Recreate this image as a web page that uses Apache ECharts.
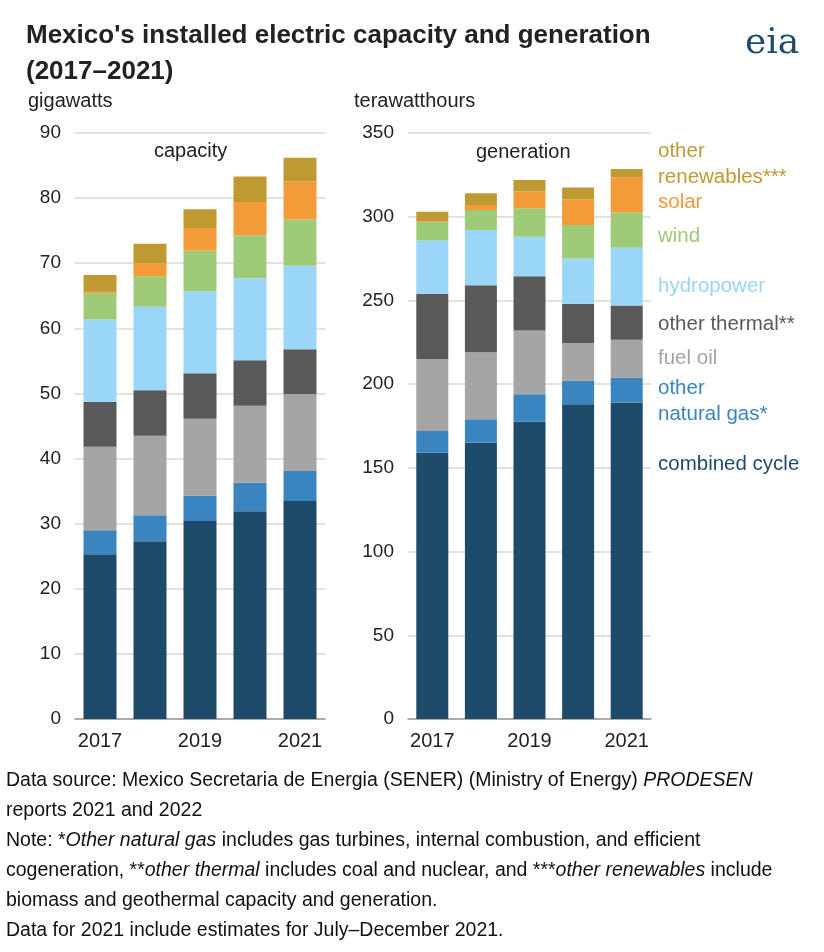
<!DOCTYPE html>
<html>
<head>
<meta charset="utf-8">
<script src="https://cdn.jsdelivr.net/npm/echarts@6/dist/echarts.min.js"></script>
<style>
body{margin:0;background:#fff;font-family:Arial,"Liberation Sans",sans-serif;}
#chart{width:824px;height:952px;}
</style>
</head>
<body>
<div id="chart"></div>
<script>
// 数据
var years = ['2017', '2018', '2019', '2020', '2021'];
var seriesNames = ['combined cycle', 'other natural gas*', 'fuel oil', 'other thermal**', 'hydropower', 'wind', 'solar', 'other renewables***'];
var colors = ['#1f4b6b', '#3a84bf', '#a5a5a5', '#595959', '#99d6f8', '#9fca78', '#f29b38', '#bf9a33'];

var capCombined = [25.3, 27.3, 30.4, 31.9, 33.5];
var capOtherGas = [3.7, 4.0, 3.9, 4.4, 4.6];
var capFuelOil = [12.8, 12.2, 11.8, 11.8, 11.8];
var capThermal = [6.9, 7.0, 7.0, 7.0, 6.9];
var capHydro = [12.7, 12.8, 12.6, 12.6, 12.8];
var capWind = [4.0, 4.7, 6.2, 6.6, 7.1];
var capSolar = [0.2, 2.0, 3.5, 5.1, 5.9];
var capOtherRen = [2.6, 3.0, 2.9, 3.9, 3.6];

var genCombined = [159, 165, 177.5, 188, 189];
var genOtherGas = [13, 14, 16.5, 14, 15];
var genFuelOil = [43, 40, 38, 22.5, 22.5];
var genThermal = [39, 40, 32.5, 23.5, 20.5];
var genHydro = [32, 33, 23.5, 27, 34.5];
var genWind = [11, 12, 17, 20, 21];
var genSolar = [0.5, 3, 10, 15.5, 21];
var genOtherRen = [5.5, 7, 7, 7, 5];

var capData = [capCombined, capOtherGas, capFuelOil, capThermal, capHydro, capWind, capSolar, capOtherRen];
var genData = [genCombined, genOtherGas, genFuelOil, genThermal, genHydro, genWind, genSolar, genOtherRen];

var chart = echarts.init(document.getElementById('chart'));

function xAxisOf(i) {
    return {
        type: 'category', gridIndex: i, data: years,
        axisTick: {show: false},
        axisLine: {lineStyle: {color: '#999', width: 1.5}},
        axisLabel: {interval: 1, color: '#222', fontSize: 20, margin: 12}
    };
}
function yAxisOf(i, max, interval) {
    return {
        type: 'value', gridIndex: i, min: 0, max: max, interval: interval,
        axisLine: {show: false}, axisTick: {show: false},
        axisLabel: {color: '#222', fontSize: 19, margin: 14},
        splitLine: {lineStyle: {color: '#d9d9d9', width: 1.5}}
    };
}

var series = [];
for (var i = 0; i < seriesNames.length; i++) {
    series.push({name: seriesNames[i], type: 'bar', stack: 'cap', xAxisIndex: 0, yAxisIndex: 0,
        barWidth: 33, itemStyle: {color: colors[i]}, data: capData[i]});
    series.push({name: seriesNames[i], type: 'bar', stack: 'gen', xAxisIndex: 1, yAxisIndex: 1,
        barWidth: 32, itemStyle: {color: colors[i]}, data: genData[i]});
}

var legendItems = [
    {t: 'other', y: 153, c: colors[7]},
    {t: 'renewables***', y: 179, c: colors[7]},
    {t: 'solar', y: 204, c: colors[6]},
    {t: 'wind', y: 238, c: colors[5]},
    {t: 'hydropower', y: 288, c: colors[4]},
    {t: 'other thermal**', y: 326, c: colors[3]},
    {t: 'fuel oil', y: 360, c: colors[2]},
    {t: 'other', y: 390, c: colors[1]},
    {t: 'natural gas*', y: 416, c: colors[1]},
    {t: 'combined cycle', y: 466, c: colors[0]}
];
var graphics = legendItems.map(function (d) {
    return {type: 'text', left: 658, top: d.y - 12, style: {text: d.t, fill: d.c, font: '20.5px Arial, "Liberation Sans"'}};
});
var baseFont = '19.5px Arial, "Liberation Sans"';
graphics.push(
    {type: 'text', left: 26, top: 18, style: {text: "Mexico's installed electric capacity and generation\n(2017\u20132021)", fill: '#222', font: 'bold 26px Arial, "Liberation Sans"', lineHeight: 36}},
    {type: 'text', left: 745, top: 26, style: {text: 'eia', fill: '#1f4b6b', font: '36px "DejaVu Serif", serif'}},
    {type: 'text', left: 28, top: 91, style: {text: 'gigawatts', fill: '#222', font: '20px Arial, "Liberation Sans"'}},
    {type: 'text', left: 354, top: 91, style: {text: 'terawatthours', fill: '#222', font: '20px Arial, "Liberation Sans"'}},
    {type: 'text', left: 154, top: 141, style: {text: 'capacity', fill: '#222', font: '20px Arial, "Liberation Sans"'}},
    {type: 'text', left: 476, top: 142, style: {text: 'generation', fill: '#222', font: '20px Arial, "Liberation Sans"'}},
    {type: 'text', left: 6, top: 766, style: {
        rich: {n: {font: baseFont, fill: '#111'}, i: {font: 'italic ' + baseFont, fill: '#111'}},
        text: '{n|Data source: Mexico Secretaria de Energia (SENER) (Ministry of Energy) }{i|PRODESEN}\n' +
              '{n|reports 2021 and 2022}\n' +
              '{n|Note: *}{i|Other natural gas}{n| includes gas turbines, internal combustion, and efficient}\n' +
              '{n|cogeneration, **}{i|other thermal}{n| includes coal and nuclear, and ***}{i|other renewables}{n| include}\n' +
              '{n|biomass and geothermal capacity and generation.}\n' +
              '{n|Data for 2021 include estimates for July\u2013December 2021.}',
        lineHeight: 30
    }}
);

var option = {
    animation: false,
    backgroundColor: '#fff',
    grid: [
        {left: 75, width: 250, top: 133, height: 586},
        {left: 408, width: 243, top: 133, height: 586}
    ],
    xAxis: [xAxisOf(0), xAxisOf(1)],
    yAxis: [yAxisOf(0, 90, 10), yAxisOf(1, 350, 50)],
    series: series,
    graphic: graphics
};

chart.setOption(option);
</script>
</body>
</html>
